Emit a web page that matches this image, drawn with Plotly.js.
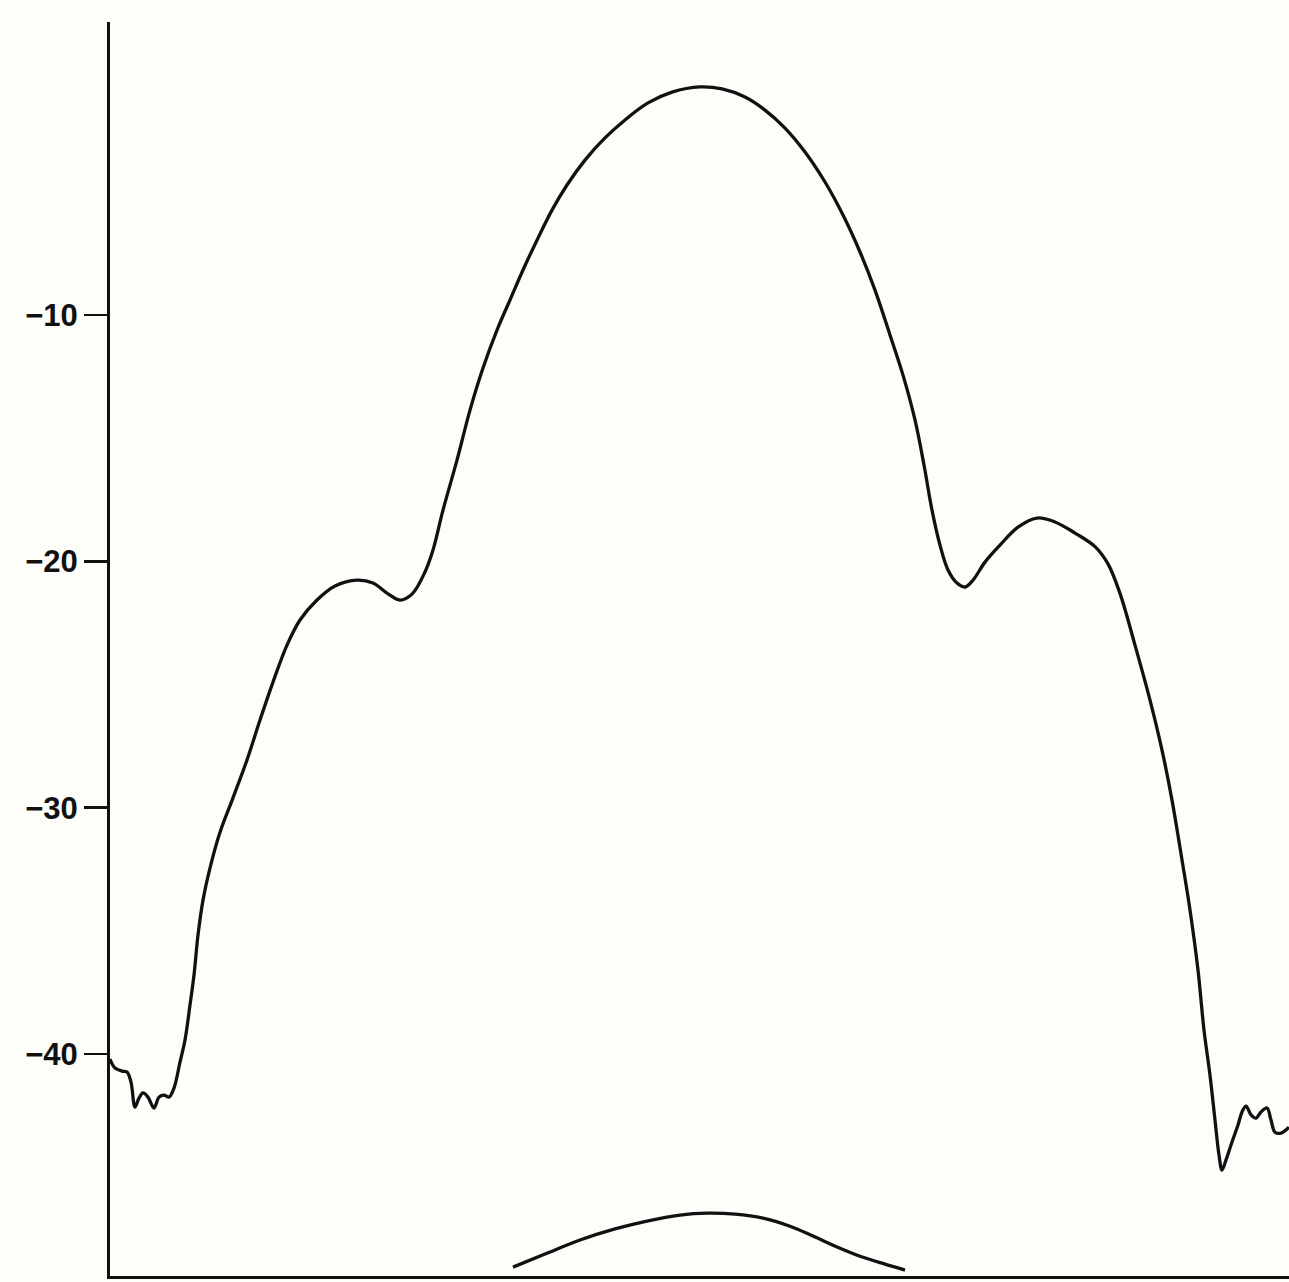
<!DOCTYPE html>
<html>
<head>
<meta charset="utf-8">
<script src="https://cdn.plot.ly/plotly-3.0.1.min.js"></script>
<style>html,body{margin:0;padding:0;background:#fdfdfa;}#chart{width:1289px;height:1282px;}</style>
</head>
<body>
<div id="chart"></div>
<script>
// Main pattern (relative level, dB) along an unlabelled horizontal axis
const mainX = [0,0.5,1.2,1.7,2.1,2.5,2.9,3.3,3.8,4.4,4.9,5.4,5.9,6.4,7.0,7.5,8.0,8.4,8.8,9.3,10.0,11.0,12.3,13.7,15.0,16.3,17.7,19.0,20.7,22.5,24.7,26.3,27.7,29.0,30.2,31.5,32.3,33.3,34.7,36.0,37.3,38.7,40.0,41.3,42.7,44.2,45.7,47.5,49.5,51.5,53.8,56.2,59.0,61.2,63.5,65.5,67.5,69.5,71.5,73.3,75.0,76.5,78.0,79.3,80.5,81.4,82.2,83.0,83.8,84.7,85.5,86.3,87.5,89.0,90.8,92.7,94.5,96.5,98.5,99.8,101.0,102.5,104.0,105.2,106.2,107.2,108.0,108.8,109.4,110.0,110.5,110.9,111.2,111.6,112.2,112.8,113.2,113.6,114.1,114.6,115.1,115.7,116.1,116.5,117.1,117.9];
const mainY = [-40.2,-40.57,-40.69,-40.73,-41.14,-42.15,-41.79,-41.58,-41.75,-42.19,-41.75,-41.67,-41.75,-41.38,-40.33,-39.43,-38.01,-36.79,-35.17,-33.75,-32.45,-31.0,-29.6,-28.06,-26.44,-24.90,-23.40,-22.38,-21.57,-21.00,-20.76,-20.88,-21.29,-21.57,-21.33,-20.43,-19.54,-17.92,-15.89,-13.86,-12.15,-10.61,-9.39,-8.17,-6.96,-5.74,-4.72,-3.71,-2.81,-2.08,-1.39,-0.95,-0.74,-0.82,-1.15,-1.68,-2.41,-3.38,-4.60,-5.94,-7.44,-8.99,-10.81,-12.44,-14.26,-16.09,-17.92,-19.34,-20.35,-20.88,-21.04,-20.76,-20.03,-19.34,-18.61,-18.24,-18.40,-18.85,-19.40,-20.10,-21.30,-23.40,-25.63,-27.66,-29.69,-32.12,-34.15,-36.59,-39.03,-40.86,-42.68,-44.10,-44.71,-44.30,-43.57,-42.88,-42.35,-42.11,-42.47,-42.60,-42.35,-42.19,-42.68,-43.17,-43.21,-42.97];

// Small lower curve near the baseline
const lowX = [40.3,43.5,47.0,50.5,53.7,57.0,59.7,62.5,65.3,68.0,70.3,73.0,75.3,77.5,79.5];
const lowY = [-48.65,-48.12,-47.55,-47.10,-46.78,-46.54,-46.46,-46.50,-46.66,-46.99,-47.39,-47.88,-48.25,-48.53,-48.77];

// Y-axis ticks
const yTickVals = [-10,-20,-30,-40];
const yTickText = ["\u221210","\u221220","\u221230","\u221240"];

const lineStyle = {color:'#111', width:3.3, shape:'spline', smoothing:1};

const traces = [
  {x: mainX, y: mainY, mode:'lines', line: lineStyle, hoverinfo:'skip'},
  {x: lowX, y: lowY, mode:'lines', line: lineStyle, hoverinfo:'skip'}
];

const layout = {
  width: 1289, height: 1282,
  margin: {l:110, r:0, t:22, b:6, pad:0},
  paper_bgcolor:'#fdfdfa', plot_bgcolor:'#fdfdfa',
  showlegend:false,
  xaxis: {range:[0,117.9], showgrid:false, zeroline:false, showticklabels:false, ticks:'',
          showline:true, linecolor:'#111', linewidth:3},
  yaxis: {range:[-49.01,1.896], showgrid:false, zeroline:false,
          tickmode:'array', tickvals:yTickVals, ticktext:yTickText,
          ticks:'outside', ticklen:23, tickwidth:2.5, tickcolor:'#111',
          showline:true, linecolor:'#111', linewidth:3,
          tickfont:{family:'Liberation Sans, Arial, sans-serif', size:31, color:'#111', weight:'bold'}}
};

Plotly.newPlot('chart', traces, layout, {displayModeBar:false, staticPlot:true});
</script>
</body>
</html>
